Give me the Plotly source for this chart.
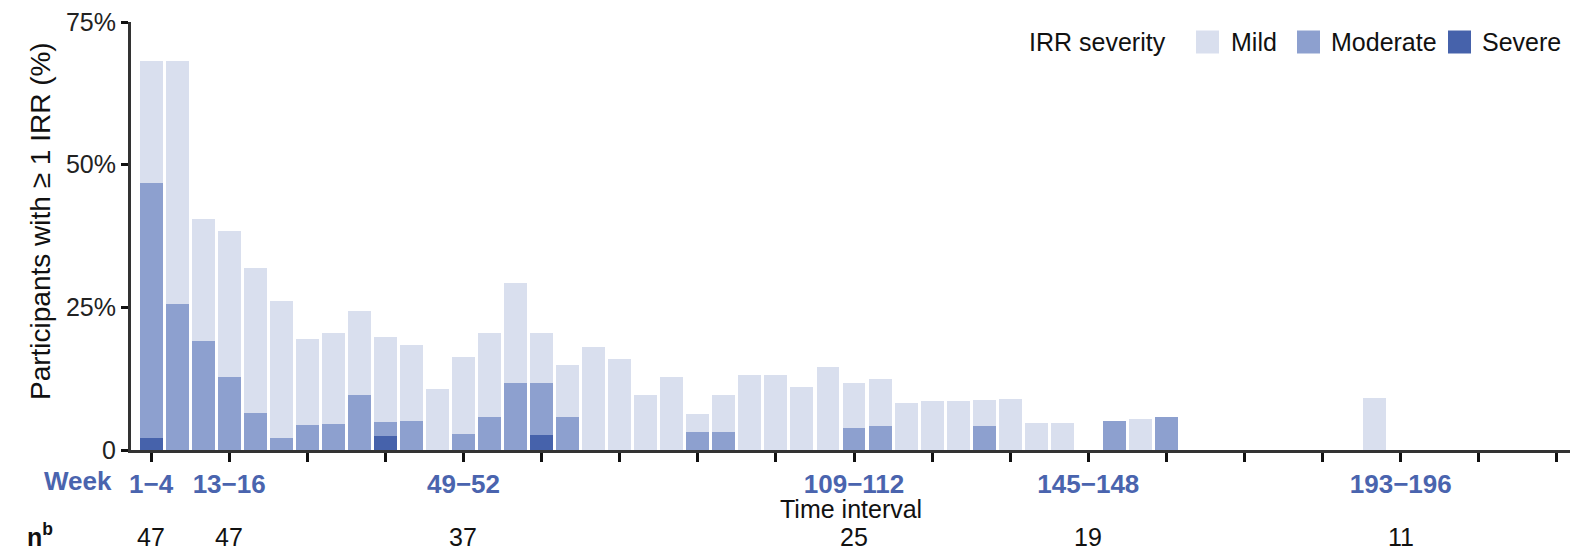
import plotly.graph_objects as go

# ---- data ----
intervals = [f"{4*i+1}\u2212{4*i+4}" for i in range(55)]  # 4-week intervals, weeks 1-4 ... 217-220

severe = [2.1, 0, 0, 0, 0, 0, 0, 0, 0, 2.5,
          0, 0, 0, 0, 0, 2.6, 0, 0, 0, 0,
          0, 0, 0, 0, 0, 0, 0, 0, 0, 0,
          0, 0, 0, 0, 0, 0, 0, 0, 0, 0,
          0, 0, 0, 0, 0, 0, 0, 0, 0, 0,
          0, 0, 0, 0, 0]
moderate = [44.7, 25.5, 19.1, 12.8, 6.4, 2.1, 4.3, 4.6, 9.6, 2.4,
            5.1, 0, 2.8, 5.8, 11.8, 9.2, 5.8, 0, 0, 0,
            0, 3.2, 3.2, 0, 0, 0, 0, 3.9, 4.2, 0,
            0, 0, 4.2, 0, 0, 0, 0, 5.1, 0, 5.8,
            0, 0, 0, 0, 0, 0, 0, 0, 0, 0,
            0, 0, 0, 0, 0]
mild = [21.3, 42.6, 21.3, 25.5, 25.5, 24.0, 15.2, 15.9, 14.8, 14.9,
        13.3, 10.7, 13.5, 14.7, 17.5, 8.7, 9.1, 18.1, 16.0, 9.6,
        12.8, 3.1, 6.4, 13.2, 13.2, 11.1, 14.6, 7.9, 8.3, 8.2,
        8.6, 8.6, 4.6, 8.9, 4.7, 4.7, 0, 0, 5.4, 0,
        0, 0, 0, 0, 0, 0, 0, 9.1, 0, 0,
        0, 0, 0, 0, 0]

labelled_intervals = ["1\u22124", "13\u221216", "49\u221252", "109\u2212112", "145\u2212148", "193\u2212196"]
n_values = ["47", "47", "37", "25", "19", "11"]

y_ticks = [0, 25, 50, 75]
y_tick_text = ["0", "25%", "50%", "75%"]

# ---- styles ----
C_MILD = "#D9DFEE"
C_MOD = "#8DA0CF"
C_SEV = "#4662AB"
C_LAB = "#4A64AE"
FONT = "Liberation Sans, Arial, sans-serif"
FS = 25

fig = go.Figure()
for name, vals, col in [("Severe", severe, C_SEV), ("Moderate", moderate, C_MOD), ("Mild", mild, C_MILD)]:
    fig.add_trace(go.Bar(x=intervals, y=vals, name=name, marker=dict(color=col, line=dict(width=0)),
                         showlegend=False))

tickvals = intervals[::3]
ticktext = [f"<b>{t}</b>" if t in labelled_intervals else " " for t in tickvals]

L, R, T, B = 131, 1570, 22, 450
W, H = R - L, B - T
def px(x):
    return (x - L) / W
def py(y):
    return (B - y) / H

fig.update_layout(
    width=1574, height=550,
    margin=dict(l=L, r=1574 - R, t=T, b=550 - B, autoexpand=False),
    barmode="stack", bargap=0.12,
    plot_bgcolor="white", paper_bgcolor="white",
    font=dict(family=FONT, size=FS, color="#111"),
    xaxis=dict(type="category", categoryorder="array", categoryarray=intervals,
               range=[-0.77, 54.5], tickmode="array", tickvals=tickvals, ticktext=ticktext,
               ticks="outside", ticklen=9, tickwidth=2.5, tickcolor="#111",
               tickfont=dict(color=C_LAB, size=26, family=FONT), ticklabelstandoff=0,
               showline=True, linecolor="#333", linewidth=3, showgrid=False, zeroline=False,
               automargin=False),
    yaxis=dict(range=[0, 75], tickmode="array", tickvals=y_ticks, ticktext=y_tick_text,
               ticks="outside", ticklen=7, tickwidth=2.5, tickcolor="#111",
               tickfont=dict(size=FS, color="#222"), automargin=False,
               showline=True, linecolor="#333", linewidth=3, showgrid=False, zeroline=False),
)

ann = []
ann.append(dict(text="Participants with \u2265 1 IRR (%)", x=px(40), y=py(221), xref="paper", yref="paper",
                textangle=-90, showarrow=False, xanchor="center", yanchor="middle",
                font=dict(size=28, color="#111")))
ann.append(dict(text="Time interval", x=0.5, y=py(509), xref="paper", yref="paper", showarrow=False,
                xanchor="center", yanchor="middle", font=dict(size=FS, color="#111")))
ann.append(dict(text="<b>Week</b>", x=px(78), y=py(481), xref="paper", yref="paper", showarrow=False,
                xanchor="center", yanchor="middle", font=dict(size=26, color=C_LAB)))
ann.append(dict(text="<b>n<sup>b</sup></b>", x=px(40), y=py(535), xref="paper", yref="paper", showarrow=False,
                xanchor="center", yanchor="middle", font=dict(size=FS, color="#111")))
for lab, n in zip(labelled_intervals, n_values):
    ann.append(dict(text=n, x=lab, y=py(537), xref="x", yref="paper", showarrow=False,
                    xanchor="center", yanchor="middle", font=dict(size=FS, color="#111")))

# manual legend
ly = 42
ann.append(dict(text="IRR severity", x=px(1168), y=py(ly), xref="paper", yref="paper", showarrow=False,
                xanchor="right", yanchor="middle", font=dict(size=FS, color="#111")))
shapes = []
for name, col, sx, tx in [("Mild", C_MILD, 1196, 1229), ("Moderate", C_MOD, 1297, 1329), ("Severe", C_SEV, 1448, 1480)]:
    shapes.append(dict(type="rect", xref="paper", yref="paper", x0=px(sx), x1=px(sx + 23),
                       y0=py(ly + 11.5), y1=py(ly - 11.5), fillcolor=col, line=dict(width=0)))
    ann.append(dict(text=name, x=px(tx), y=py(ly), xref="paper", yref="paper", showarrow=False,
                    xanchor="left", yanchor="middle", font=dict(size=FS, color="#111")))

fig.update_layout(annotations=ann, shapes=shapes)
fig.write_html("out.html", config={"displayModeBar": False},
               post_script="document.body.style.margin='0';document.body.style.padding='0';")
